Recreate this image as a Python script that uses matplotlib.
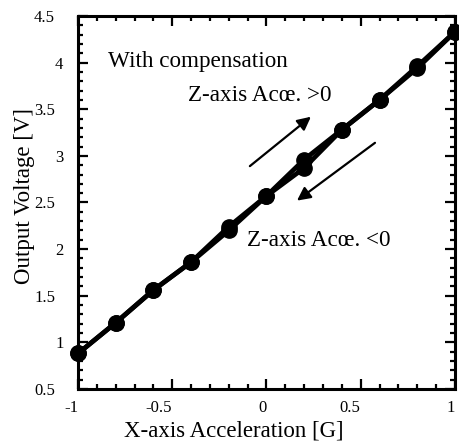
import matplotlib.pyplot as plt
from matplotlib.ticker import MultipleLocator

plt.rcParams['font.family'] = ['Liberation Serif', 'DejaVu Serif']

# X-axis acceleration [G]
accel = [-1.0, -0.8, -0.6, -0.4, -0.2, 0.0, 0.2, 0.4, 0.6, 0.8, 1.0]
# output voltage [V], Z-axis acceleration > 0 and < 0
v_zpos = [0.88, 1.21, 1.56, 1.86, 2.24, 2.57, 2.96, 3.28, 3.60, 3.96, 4.33]
v_zneg = [0.88, 1.21, 1.56, 1.86, 2.20, 2.57, 2.87, 3.28, 3.60, 3.94, 4.33]

xtick_vals = [-1, -0.5, 0, 0.5, 1]
xtick_text = ['-1', '-0.5', '0', '0.5', '1']
ytick_vals = [0.5, 1, 1.5, 2, 2.5, 3, 3.5, 4, 4.5]
ytick_text = ['0.5', '1', '1.5', '2', '2.5', '3', '3.5', '4', '4.5']

fig = plt.figure(figsize=(4.59, 4.46), dpi=100)
ax = fig.add_axes([0.170, 0.128, 0.821, 0.836])

ax.plot(accel, v_zneg, color='black', lw=3.4, marker='o', ms=11, clip_on=False)
ax.plot(accel, v_zpos, color='black', lw=3.4, marker='o', ms=11, clip_on=False)

ax.set_xlim(-1, 1)
ax.set_ylim(0.5, 4.5)
ax.xaxis.set_minor_locator(MultipleLocator(0.1))
ax.yaxis.set_minor_locator(MultipleLocator(0.1))
ax.set_xticks(xtick_vals)
ax.set_xticklabels(xtick_text, ha='right')
ax.set_yticks(ytick_vals)
ax.set_yticklabels(ytick_text)
ax.tick_params(which='both', direction='in', top=True, right=True, labelsize=12, width=1.6)
ax.tick_params(axis='x', pad=8)
ax.tick_params(axis='y', pad=16.5)
ax.tick_params(which='major', length=7.5)
ax.tick_params(which='minor', length=3.8)
# whole numbers sit to the right of the label column, decimals to the left
for lab, txt in zip(ax.get_yticklabels(), ytick_text):
    if '.' not in txt:
        lab.set_ha('left')
for s in ax.spines.values():
    s.set_linewidth(2.2)

ax.set_xlabel('X-axis Acceleration [G]', fontsize=16.5)
ax.set_ylabel('Output Voltage [V]', fontsize=16.5)
ax.xaxis.set_label_coords(0.414, -0.086)
ax.yaxis.set_label_coords(-0.114, 0.517)

ax.text(-0.84, 4.01, 'With compensation', fontsize=16.7, va='center')
ax.text(-0.416, 3.65, 'Z-axis Acœ. >0', fontsize=16.7, va='center')
ax.text(-0.103, 2.09, 'Z-axis Acœ. <0', fontsize=16.7, va='center')

ax.annotate('', xy=(0.236, 3.42), xytext=(-0.088, 2.89),
            arrowprops=dict(arrowstyle='-|>', color='black', lw=1.6,
                            mutation_scale=20, shrinkA=0, shrinkB=0))
ax.annotate('', xy=(0.162, 2.52), xytext=(0.576, 3.14),
            arrowprops=dict(arrowstyle='-|>', color='black', lw=1.6,
                            mutation_scale=20, shrinkA=0, shrinkB=0))

fig.savefig('out.png', dpi=100)
